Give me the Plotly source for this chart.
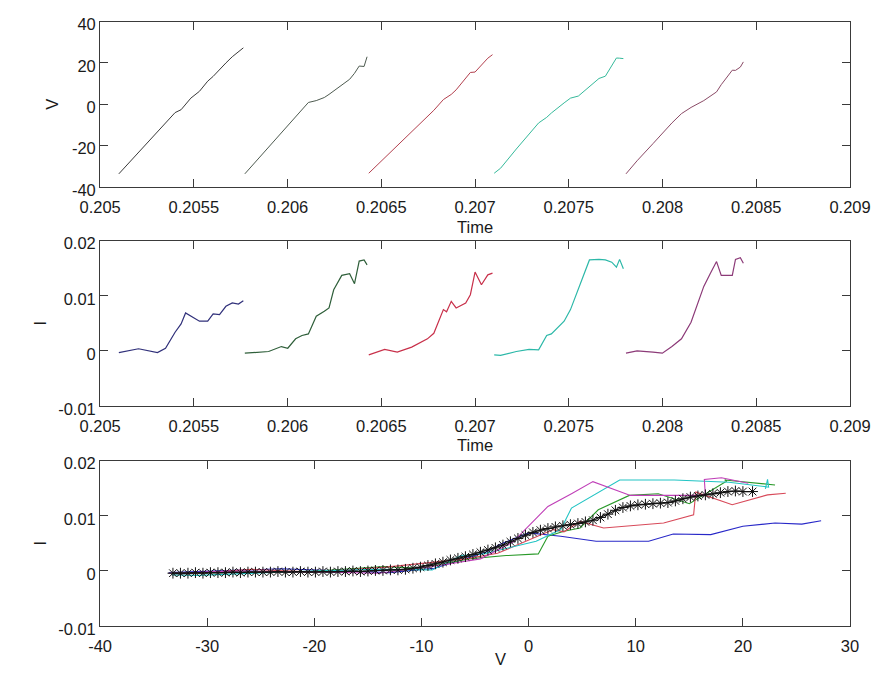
import plotly.graph_objects as go

# ---------------- data: five sweep cycles (time, voltage, current) ----------------
t1 = [0.205100, 0.205205, 0.205306, 0.205349, 0.205400, 0.205432, 0.205456, 0.205484,
      0.205530, 0.205574, 0.205603, 0.205637, 0.205671, 0.205705, 0.205738, 0.205764]
V1 = [-33.6, -23.1, -13.0, -8.8, -4.0, -2.6, 0.0, 3.0, 6.3, 11.2, 13.5, 17.0, 20.0, 23.0, 25.5, 27.3]
I1 = [-0.0003, 0.0004, -0.0003, 0.0005, 0.0034, 0.0049, 0.0069, 0.0063, 0.0054, 0.0054,
      0.0067, 0.0066, 0.0081, 0.0087, 0.0085, 0.0091]

t2 = [0.205772, 0.205899, 0.205967, 0.206001, 0.206043, 0.206077, 0.206111, 0.206153, 0.206196,
      0.206221, 0.206246, 0.206289, 0.206331, 0.206357, 0.206382, 0.206408, 0.206424]
V2 = [-33.6, -20.5, -13.5, -10.0, -5.6, -2.1, 0.9, 1.8, 3.3, 4.8, 6.5, 9.4, 12.1, 15.0, 18.5, 18.3, 23.0]
I2 = [-0.0004, -0.0001, 0.0008, 0.0005, 0.0022, 0.0028, 0.0031, 0.0063, 0.0072, 0.0078,
      0.0111, 0.0137, 0.0140, 0.0122, 0.0163, 0.0165, 0.0156]

t3 = [0.206433, 0.206518, 0.206585, 0.206662, 0.206746, 0.206780, 0.206831, 0.206848,
      0.206873, 0.206899, 0.206950, 0.206975, 0.207000, 0.207034, 0.207068, 0.207093]
V3 = [-33.3, -25.9, -20.0, -13.3, -5.9, -2.9, 2.3, 3.3, 4.8, 7.0, 12.6, 15.4, 15.6, 19.0, 22.3, 24.0]
I3 = [-0.0007, 0.0003, -0.0002, 0.0007, 0.0022, 0.0032, 0.0075, 0.0071, 0.0090, 0.0078,
      0.0087, 0.0102, 0.0143, 0.0120, 0.0138, 0.0141]

t4 = [0.207102, 0.207136, 0.207220, 0.207288, 0.207339, 0.207382, 0.207407, 0.207475, 0.207509,
      0.207551, 0.207610, 0.207661, 0.207695, 0.207729, 0.207754, 0.207771, 0.207791]
V4 = [-33.3, -30.9, -21.6, -14.5, -9.0, -6.3, -4.2, 0.7, 3.0, 4.0, 8.5, 12.5, 13.6, 18.7, 22.4, 22.3, 22.1]
I4 = [-0.0007, -0.0008, -0.0001, 0.0003, 0.0002, 0.0028, 0.0031, 0.0054, 0.0075, 0.0114,
      0.0165, 0.0166, 0.0165, 0.0161, 0.0152, 0.0166, 0.0149]

t5 = [0.207805, 0.207864, 0.207949, 0.207999, 0.208050, 0.208101, 0.208152, 0.208220,
      0.208254, 0.208288, 0.208313, 0.208372, 0.208389, 0.208415, 0.208431]
V5 = [-33.6, -27.3, -19.0, -14.0, -9.0, -4.5, -1.5, 1.8, 4.0, 6.0, 9.5, 16.5, 16.4, 18.0, 20.5]
I5 = [-0.0004, 0.0000, -0.0002, -0.0004, 0.0008, 0.0022, 0.0052, 0.0117, 0.0140, 0.0162,
      0.0137, 0.0137, 0.0166, 0.0169, 0.0159]

# averaged I-V characteristic (asterisks)
V_mean = [-33.2, -32.5, -31.8, -31.1, -30.4, -29.7, -29.0, -28.3, -27.6, -26.9, -26.2, -25.5,
          -24.8, -24.1, -23.4, -22.7, -22.0, -21.3, -20.6, -19.9, -19.2, -18.5, -17.8, -17.1,
          -16.4, -15.7, -15.0, -14.3, -13.6, -12.9, -12.2, -11.5, -10.8, -10.1, -9.4, -8.7,
          -8.0, -7.3, -6.6, -5.9, -5.2, -4.5, -3.8, -3.1, -2.4, -1.7, -1.0, -0.3, 0.4, 1.1,
          1.8, 2.5, 3.2, 3.9, 4.6, 5.3, 6.0, 6.7, 7.4, 8.1, 8.8, 9.5, 10.2, 10.9, 11.6, 12.3,
          13.0, 13.7, 14.4, 15.1, 15.8, 16.5, 17.2, 17.9, 18.6, 19.3, 20.0, 20.9]
I_mean = [-0.0004, -0.0004, -0.0004, -0.0003, -0.0004, -0.0003, -0.0003, -0.0003, -0.0002, -0.0003,
          -0.0002, -0.0002, -0.0002, -0.0002, -0.0001, -0.0002, -0.0002, -0.0001, -0.0002, -0.0002,
          -0.0001, -0.0002, -0.0001, -0.0001, 0.0000, -0.0001, 0.0000, 0.0001, 0.0001, 0.0002,
          0.0002, 0.0003, 0.0005, 0.0007, 0.0010, 0.0013, 0.0016, 0.0020, 0.0023, 0.0026, 0.0030,
          0.0034, 0.0038, 0.0042, 0.0047, 0.0053, 0.0059, 0.0065, 0.0070, 0.0074, 0.0077, 0.0080,
          0.0082, 0.0084, 0.0086, 0.0089, 0.0092, 0.0097, 0.0103, 0.0110, 0.0115, 0.0118, 0.0120,
          0.0121, 0.0122, 0.0123, 0.0124, 0.0127, 0.0131, 0.0134, 0.0136, 0.0138, 0.0140, 0.0142,
          0.0144, 0.0145, 0.0144, 0.0144]

# tick labels
time_ticks = [0.205, 0.2055, 0.206, 0.2065, 0.207, 0.2075, 0.208, 0.2085, 0.209]
time_labels = ["0.205", "0.2055", "0.206", "0.2065", "0.207", "0.2075", "0.208", "0.2085", "0.209"]
v_ticks = [-40, -20, 0, 20, 40]
v_labels = ["-40", "-20", "0", "20", "40"]
i_ticks = [-0.01, 0, 0.01, 0.02]
i_labels = ["-0.01", "0", "0.01", "0.02"]
vx_ticks = [-40, -30, -20, -10, 0, 10, 20, 30]
vx_labels = ["-40", "-30", "-20", "-10", "0", "10", "20", "30"]

cycles = [(t1, V1, I1), (t2, V2, I2), (t3, V3, I3), (t4, V4, I4), (t5, V5, I5)]
top_colors = ["#3a3a3a", "#4d5a4f", "#b3404e", "#35b99a", "#8a4a66"]
mid_colors = ["#30307a", "#2f5f3a", "#c8304a", "#2cb8a8", "#8c3a78"]
bot_colors = ["#2828c8", "#2a9a2a", "#d84a5a", "#22c4c4", "#c040b8"]

fig = go.Figure()
for k, (t, V, I) in enumerate(cycles):
    fig.add_trace(go.Scatter(x=t, y=V, mode="lines", line=dict(color=top_colors[k], width=1),
                             xaxis="x", yaxis="y", showlegend=False))
    fig.add_trace(go.Scatter(x=t, y=I, mode="lines", line=dict(color=mid_colors[k], width=1.2),
                             xaxis="x2", yaxis="y2", showlegend=False))
    fig.add_trace(go.Scatter(x=V, y=I, mode="lines", line=dict(color=bot_colors[k], width=1.1),
                             xaxis="x3", yaxis="y3", showlegend=False))
fig.add_trace(go.Scatter(x=V_mean, y=I_mean, mode="lines+markers",
                         line=dict(color="#111111", width=1.2),
                         marker=dict(symbol="asterisk-open", size=9, color="#111111",
                                     line=dict(color="#111111", width=1)),
                         xaxis="x3", yaxis="y3", showlegend=False))

W, H = 892, 681
xl, xr = 83 / W, 870 / W
def ydom(top, bottom):
    return [1 - bottom / H, 1 - top / H]

font = dict(family="Liberation Sans, Arial, sans-serif", size=16.5, color="#1a1a1a")
axis_common = dict(showline=True, linecolor="#3a3a3a", linewidth=1, mirror="ticks",
                   ticks="inside", ticklen=8, tickcolor="#3a3a3a", showgrid=False,
                   zeroline=False, tickfont=font)
xextra = dict(ticklabelstandoff=5)
yextra = dict(ticklabelshift=3)

fig.update_layout(
    width=W, height=H, margin=dict(l=0, r=0, t=0, b=0),
    paper_bgcolor="white", plot_bgcolor="white", font=font,
    xaxis=dict(domain=[xl, xr], anchor="y", range=[0.205, 0.209], tickvals=time_ticks,
               ticktext=time_labels, **axis_common, **xextra),
    yaxis=dict(domain=ydom(16, 186), anchor="x", range=[-40, 40], tickvals=v_ticks,
               ticktext=v_labels, **axis_common, **yextra),
    xaxis2=dict(domain=[xl, xr], anchor="y2", range=[0.205, 0.209], tickvals=time_ticks,
                ticktext=time_labels, **axis_common, **xextra),
    yaxis2=dict(domain=ydom(241, 411), anchor="x2", range=[-0.01, 0.02], tickvals=i_ticks,
                ticktext=i_labels, **axis_common, **yextra),
    xaxis3=dict(domain=[xl, xr], anchor="y3", range=[-40, 30], tickvals=vx_ticks,
                ticktext=vx_labels, **axis_common, **xextra),
    yaxis3=dict(domain=ydom(467, 637), anchor="x3", range=[-0.01, 0.02], tickvals=i_ticks,
                ticktext=i_labels, **axis_common, **yextra),
)

def label(text, x, y, angle=0):
    fig.add_annotation(text=text, x=x / W, y=1 - y / H, xref="paper", yref="paper",
                       showarrow=False, textangle=angle, font=font,
                       xanchor="center", yanchor="middle")

label("V", 33, 101, -90)
label("Time", 476, 227)
label("I", 20, 326, -90)
label("Time", 476, 451)
label("I", 20, 552, -90)
label("V", 503, 671)

fig.write_html("out.html")
